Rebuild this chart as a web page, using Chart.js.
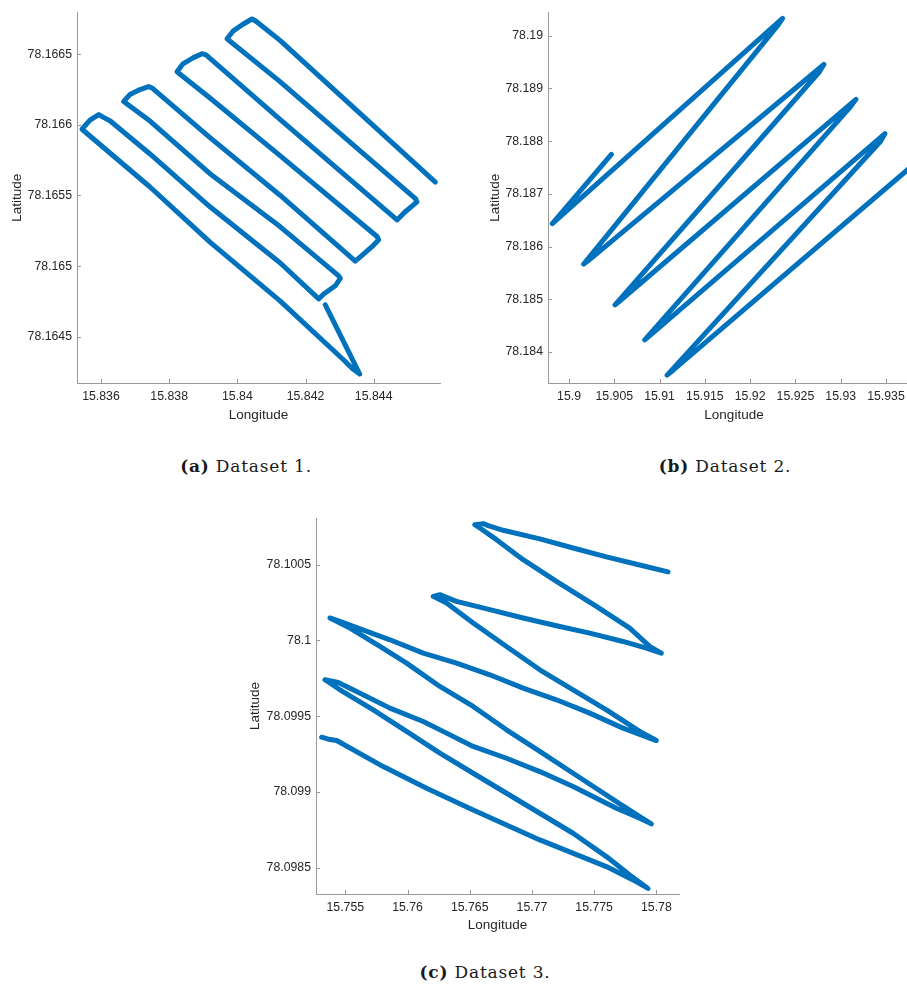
<!DOCTYPE html>
<html>
<head>
<meta charset="utf-8">
<title>Datasets</title>
<script src="https://cdn.jsdelivr.net/npm/chart.js@4.4.1/dist/chart.umd.min.js"></script>
<style>
  html, body { margin: 0; padding: 0; background: #fff; overflow: hidden; }
  #page { position: relative; width: 907px; height: 988px; overflow: hidden; }
  canvas { position: absolute; }
  .cap { position: absolute; width: 300px; text-align: center; font-family: "DejaVu Serif", serif;
         font-size: 17px; line-height: 20px; letter-spacing: 0.8px; color: #1a1a1a; white-space: nowrap; }
</style>
</head>
<body>
<div id="page">
  <canvas id="chart1" width="450" height="430" style="left:0px;top:0px"></canvas>
  <canvas id="chart2" width="460" height="430" style="left:460px;top:0px"></canvas>
  <canvas id="chart3" width="450" height="440" style="left:240px;top:500px"></canvas>
  <div class="cap" style="left:96px;top:456px"><b>(a)</b> Dataset 1.</div>
  <div class="cap" style="left:575px;top:456px"><b>(b)</b> Dataset 2.</div>
  <div class="cap" style="left:335px;top:962px"><b>(c)</b> Dataset 3.</div>
</div>
<script>
// Dataset 1 : trajet en aller-retour (lignes paralleles)
const lon1 = [15.842581, 15.843590, 15.843364, 15.843121, 15.841252, 15.839198, 15.837438, 15.835443,
  15.835677, 15.835933, 15.836088, 15.836273, 15.837438, 15.839198, 15.841252, 15.842387,
  15.842534, 15.842874, 15.843021, 15.842974, 15.841252, 15.839198, 15.837438, 15.836666,
  15.836851, 15.837144, 15.837400, 15.837496, 15.839198, 15.841252, 15.843461, 15.843658,
  15.843951, 15.844148, 15.844098, 15.841252, 15.839198, 15.838230, 15.838406, 15.838699,
  15.838963, 15.839081, 15.841252, 15.844685, 15.844919, 15.845125, 15.845271, 15.845242,
  15.841252, 15.839697, 15.839873, 15.840166, 15.840430, 15.840548, 15.841252, 15.845809];
const lat1 = [78.164726, 78.164236, 78.164278, 78.164336, 78.164754, 78.165170, 78.165560, 78.165969,
  78.166034, 78.166073, 78.166051, 78.166027, 78.165794, 78.165420, 78.165024, 78.164768,
  78.164803, 78.164861, 78.164913, 78.164931, 78.165280, 78.165654, 78.166027, 78.166166,
  78.166215, 78.166250, 78.166271, 78.166261, 78.165910, 78.165502, 78.165036, 78.165076,
  78.165138, 78.165187, 78.165210, 78.165782, 78.166190, 78.166376, 78.166432, 78.166474,
  78.166504, 78.166495, 78.166038, 78.165327, 78.165383, 78.165425, 78.165455, 78.165474,
  78.166306, 78.166609, 78.166663, 78.166712, 78.166749, 78.166733, 78.166598, 78.165595];
const xTicks1 = [15.836, 15.838, 15.84, 15.842, 15.844];
const xLabels1 = ['15.836', '15.838', '15.84', '15.842', '15.844'];
const yTicks1 = [78.1645, 78.165, 78.1655, 78.166, 78.1665];
const yLabels1 = ['78.1645', '78.165', '78.1655', '78.166', '78.1665'];
const xRange1 = [15.835296, 15.845946];
const yRange1 = [78.164173, 78.166796];

// Dataset 2 : zig-zag
const lon2 = [15.904679, 15.898158, 15.923579, 15.923100, 15.901621, 15.902100, 15.928147, 15.927631,
  15.905084, 15.905600, 15.931684, 15.931095, 15.908363, 15.908916, 15.934889, 15.934410,
  15.910832, 15.911495, 15.939495];
const lat2 = [78.187750, 78.186437, 78.190331, 78.190206, 78.185669, 78.185731, 78.189456, 78.189313,
  78.184894, 78.184969, 78.188794, 78.188656, 78.184231, 78.184313, 78.188144, 78.188000,
  78.183563, 78.183656, 78.187769];
const xTicks2 = [15.9, 15.905, 15.91, 15.915, 15.92, 15.925, 15.93, 15.935];
const xLabels2 = ['15.9', '15.905', '15.91', '15.915', '15.92', '15.925', '15.93', '15.935'];
const yTicks2 = [78.184, 78.185, 78.186, 78.187, 78.188, 78.189, 78.19];
const yLabels2 = ['78.184', '78.185', '78.186', '78.187', '78.188', '78.189', '78.19'];
const xRange2 = [15.897679, 15.938758];
const yRange2 = [78.183413, 78.190444];

// Dataset 3
const lon3 = [15.753100, 15.753635, 15.754304, 15.758051, 15.761531, 15.765278, 15.770632, 15.775985, 15.778126, 15.779331,
  15.777859, 15.775985, 15.773308, 15.769293, 15.765278, 15.762602, 15.759925, 15.757248, 15.754572, 15.753367,
  15.754036, 15.754438,
  15.755910, 15.758587, 15.761263, 15.763137, 15.765278, 15.767955, 15.770632, 15.773308, 15.776788, 15.778662, 15.779598,
  15.778662, 15.776788, 15.773308, 15.770632, 15.767955, 15.765278, 15.762602, 15.759925, 15.757784, 15.755375, 15.753769,
  15.754572, 15.755642, 15.758587, 15.761263, 15.763940, 15.766617, 15.769293, 15.771970, 15.774647, 15.777323, 15.780000,
  15.778662, 15.775985, 15.773308, 15.770632, 15.767955, 15.765278, 15.763137, 15.762066,
  15.762602, 15.762923,
  15.763940, 15.766617, 15.769293, 15.771970, 15.774647, 15.777323, 15.779197, 15.780402,
  15.779465, 15.777859, 15.775182, 15.771970, 15.769293, 15.767152, 15.765814, 15.765412,
  15.766081, 15.766483,
  15.767687, 15.770632, 15.773308, 15.775985, 15.778662, 15.780937];
const lat3 = [78.099361, 78.099348, 78.099339, 78.099167, 78.099024, 78.098881, 78.098683, 78.098507, 78.098419, 78.098363,
  78.098452, 78.098573, 78.098727, 78.098925, 78.099123, 78.099256, 78.099399, 78.099542, 78.099674, 78.099740,
  78.099729, 78.099722,
  78.099663, 78.099553, 78.099465, 78.099388, 78.099300, 78.099222, 78.099134, 78.099035, 78.098892, 78.098826, 78.098789,
  78.098837, 78.098936, 78.099123, 78.099267, 78.099410, 78.099564, 78.099696, 78.099850, 78.099960, 78.100081, 78.100148,
  78.100126, 78.100093, 78.100004, 78.099916, 78.099850, 78.099773, 78.099685, 78.099608, 78.099520, 78.099421, 78.099339,
  78.099399, 78.099542, 78.099674, 78.099806, 78.099960, 78.100115, 78.100247, 78.100291,
  78.100302, 78.100291,
  78.100258, 78.100203, 78.100148, 78.100097, 78.100048, 78.099993, 78.099949, 78.099916,
  78.099960, 78.100081, 78.100225, 78.100390, 78.100533, 78.100665, 78.100742, 78.100764,
  78.100771, 78.100758,
  78.100727, 78.100670, 78.100610, 78.100551, 78.100498, 78.100452];
const xTicks3 = [15.755, 15.76, 15.765, 15.77, 15.775, 15.78];
const xLabels3 = ['15.755', '15.76', '15.765', '15.77', '15.775', '15.78'];
const yTicks3 = [78.0985, 78.099, 78.0995, 78.1, 78.1005];
const yLabels3 = ['78.0985', '78.099', '78.0995', '78.1', '78.1005'];
const xRange3 = [15.752645, 15.781820];
const yRange3 = [78.098326, 78.100808];

const lineColor = '#0072BD';
const axisColor = '#9a9a9a';
const textColor = '#262626';
const tickFont = { family: 'Liberation Sans, Arial, sans-serif', size: 12.3 };
const titleFont = { family: 'Liberation Sans, Arial, sans-serif', size: 13.5 };

// petits traits de graduation vers l'interieur (style matlab)
const innerTicks = {
  id: 'innerTicks',
  afterDraw(chart) {
    const ctx = chart.ctx;
    const { left, bottom } = chart.chartArea;
    const sx = chart.scales.x, sy = chart.scales.y;
    ctx.save();
    ctx.strokeStyle = axisColor;
    ctx.lineWidth = 1;
    ctx.beginPath();
    sx.ticks.forEach(t => {
      const px = Math.round(sx.getPixelForValue(t.value)) + 0.5;
      ctx.moveTo(px, bottom);
      ctx.lineTo(px, bottom - 4);
    });
    sy.ticks.forEach(t => {
      const py = Math.round(sy.getPixelForValue(t.value)) + 0.5;
      ctx.moveTo(left, py);
      ctx.lineTo(left + 4, py);
    });
    ctx.stroke();
    ctx.restore();
  }
};

function buildChart(id, lon, lat, xRange, yRange, xTicks, xLabels, yTicks, yLabels, box) {
  const points = lon.map((x, i) => ({ x: x, y: lat[i] }));
  return new Chart(document.getElementById(id), {
    type: 'scatter',
    data: {
      datasets: [{
        data: points,
        showLine: true,
        borderColor: lineColor,
        borderWidth: 5,
        pointRadius: 0,
        tension: 0,
        borderJoinStyle: 'round',
        borderCapStyle: 'round'
      }]
    },
    options: {
      responsive: false,
      animation: false,
      devicePixelRatio: 1,
      layout: { padding: { left: 0, right: box.right, top: box.top, bottom: 0 } },
      plugins: { legend: { display: false }, tooltip: { enabled: false } },
      scales: {
        x: {
          type: 'linear',
          position: 'bottom',
          min: xRange[0],
          max: xRange[1],
          afterBuildTicks: s => { s.ticks = xTicks.map(v => ({ value: v })); },
          afterFit: s => { s.height = box.xh; },
          ticks: { callback: (v, i) => xLabels[i], font: tickFont, color: textColor, padding: 6, maxRotation: 0, autoSkip: false },
          grid: { display: false, drawTicks: false },
          border: { display: true, color: axisColor, width: 1 },
          title: { display: true, text: 'Longitude', font: titleFont, color: textColor, padding: { top: 0, bottom: box.xt } }
        },
        y: {
          type: 'linear',
          position: 'left',
          min: yRange[0],
          max: yRange[1],
          afterBuildTicks: s => { s.ticks = yTicks.map(v => ({ value: v })); },
          afterFit: s => { s.width = box.yw; },
          ticks: { callback: (v, i) => yLabels[i], font: tickFont, color: textColor, padding: 5, autoSkip: false },
          grid: { display: false, drawTicks: false },
          border: { display: true, color: axisColor, width: 1 },
          title: { display: true, text: 'Latitude', font: titleFont, color: textColor, padding: { top: box.yt, bottom: 0 } }
        }
      }
    },
    plugins: [innerTicks]
  });
}

buildChart('chart1', lon1, lat1, xRange1, yRange1, xTicks1, xLabels1, yTicks1, yLabels1,
  { top: 8, right: 10, xh: 47, yw: 77, xt: 7, yt: 9 });
buildChart('chart2', lon2, lat2, xRange2, yRange2, xTicks2, xLabels2, yTicks2, yLabels2,
  { top: 8, right: 0, xh: 47, yw: 88, xt: 7, yt: 27 });
buildChart('chart3', lon3, lat3, xRange3, yRange3, xTicks3, xLabels3, yTicks3, yLabels3,
  { top: 18, right: 11, xh: 46, yw: 76, xt: 7, yt: 7 });
</script>
</body>
</html>
